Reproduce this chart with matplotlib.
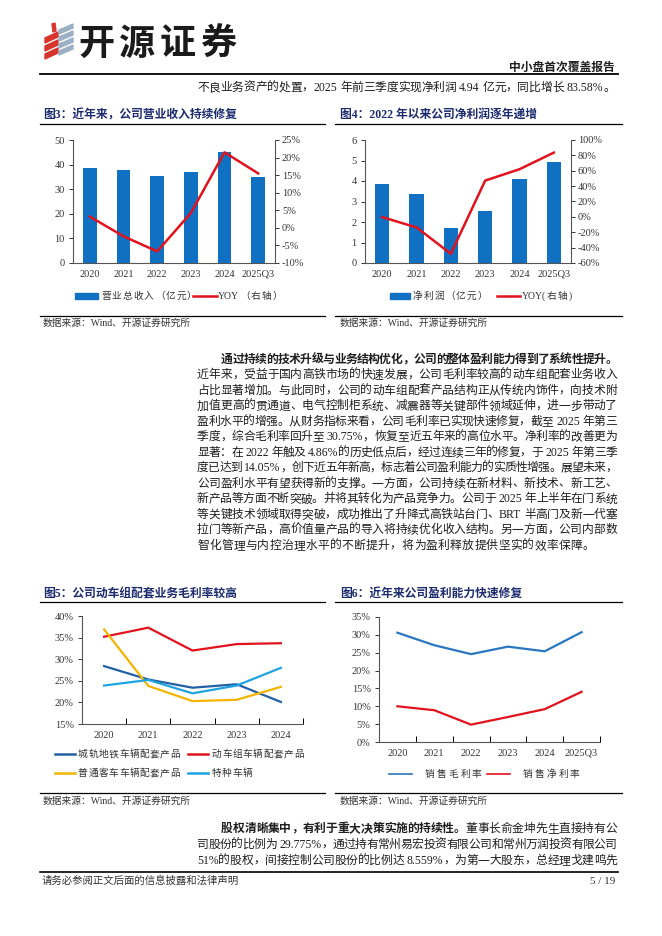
import re
import numpy as np
import matplotlib
matplotlib.use('Agg')
import matplotlib.pyplot as plt
import matplotlib.ticker as ticker
from matplotlib.lines import Line2D
from matplotlib.patches import Rectangle, Polygon

TXT = ['Liberation Serif', 'Noto Sans CJK SC']
plt.rcParams['font.family'] = TXT
plt.rcParams['axes.unicode_minus'] = False

# ---- data ----
years6 = ['2020', '2021', '2022', '2023', '2024', '2025Q3']
years5 = ['2020', '2021', '2022', '2023', '2024']

revenue = [38.7, 37.8, 35.2, 36.9, 45.0, 35.1]          # 亿元
revenue_yoy = [3.2, -2.4, -6.7, 4.2, 21.5, 15.5]        # %
profit = [3.87, 3.35, 1.73, 2.55, 4.10, 4.94]           # 亿元
profit_yoy = [-0.3, -13.7, -48.0, 47.2, 62.0, 83.6]     # %

metro = [28.4, 25.3, 23.4, 24.2, 20.1]
emu = [35.2, 37.3, 32.0, 33.5, 33.7]
coach = [36.9, 23.8, 20.3, 20.6, 23.6]
special = [23.9, 25.2, 22.1, 23.9, 28.0]
seg_names = ['城轨地铁车辆配套产品', '动车组车辆配套产品', '普通客车车辆配套产品', '特种车辆']

gross_margin = [30.6, 27.1, 24.6, 26.7, 25.4, 30.75]
net_margin = [10.0, 8.9, 4.86, 7.0, 9.2, 14.05]

body = [
    '近年来，受益于国内高铁市场的快速发展，公司毛利率较高的动车组配套业务收入',
    '占比显著增加。与此同时，公司的动车组配套产品结构正从传统内饰件，向技术附',
    '加值更高的贯通道、电气控制柜系统、减震器等关键部件领域延伸，进一步带动了',
    '盈利水平的增强。从财务指标来看，公司毛利率已实现快速修复，截至 2025 年第三',
    '季度，综合毛利率回升至 30.75%，恢复至近五年来的高位水平。净利率的改善更为',
    '显著：在 2022 年触及 4.86%的历史低点后，经过连续三年的修复，于 2025 年第三季',
    '度已达到 14.05%，创下近五年新高，标志着公司盈利能力的实质性增强。展望未来，',
    '公司盈利水平有望获得新的支撑。一方面，公司持续在新材料、新技术、新工艺、',
    '新产品等方面不断突破。并将其转化为产品竞争力。公司于 2025 年上半年在门系统',
    '等关键技术领域取得突破，成功推出了升降式高铁站台门、BRT 半高门及新一代塞',
    '拉门等新产品，高价值量产品的导入将持续优化收入结构。另一方面，公司内部数',
    '智化管理与内控治理水平的不断提升，将为盈利释放提供坚实的效率保障。',
]

BLUE = '#1070c2'
RED = '#e2121c'
NAVY = '#1b2b6e'
INK = '#1e1e1e'

W, H = 662, 936
fig = plt.figure(figsize=(W / 100, H / 100), dpi=100)
rend = fig.canvas.get_renderer()


def fx(x):
    return x / W


def fy(y):
    return 1 - y / H


def add_ax(x0, y0, x1, y1):
    return fig.add_axes([fx(x0), fy(y1), (x1 - x0) / W, (y1 - y0) / H])


def hline(x0, x1, y, lw=0.9):
    fig.add_artist(Line2D([fx(x0), fx(x1)], [fy(y), fy(y)], color='black', lw=lw,
                          transform=fig.transFigure))


def text_line(parts, y, x0=197, x1=617, justify=True, fs=8.5, gap=0.0,
              color=INK):
    # place token by token so the line can be justified like the page
    toks = []
    for s, bold in parts:
        for t in re.findall(r'[A-Za-z0-9.%/()]+| |.', s):
            toks.append((t, bold))
    arts, widths = [], []
    for t, bold in toks:
        if t == ' ':
            arts.append(None)
            widths.append(fs * 100 / 72 * 0.25)
            continue
        a = fig.text(0, fy(y + fs * 0.45), t, fontsize=fs, family=TXT,
                     fontweight='bold' if bold else 'normal',
                     va='baseline', ha='left', color=color)
        arts.append(a)
        widths.append(a.get_window_extent(rend).width)
    if justify and len(toks) > 1:
        gap = (x1 - x0 - sum(widths)) / (len(toks) - 1)
    x = x0
    for a, w in zip(arts, widths):
        if a is not None:
            a.set_x(fx(x))
        x += w + gap


# ---- page header ----
for i in range(3):
    fig.add_artist(Polygon([(fx(45), fy(38 + i * 8)), (fx(58), fy(32 + i * 8)),
                            (fx(58), fy(37 + i * 8)), (fx(45), fy(43 + i * 8))],
                           closed=True, color='#d9342b', transform=fig.transFigure))
fig.add_artist(Polygon([(fx(52), fy(24)), (fx(55), fy(23)), (fx(56), fy(31)), (fx(53), fy(32))],
                       closed=True, color='#d9342b', transform=fig.transFigure))
for i in range(4):
    fig.add_artist(Polygon([(fx(59), fy(30 + i * 7)), (fx(73), fy(24 + i * 7)),
                            (fx(73), fy(28 + i * 7)), (fx(59), fy(34 + i * 7))],
                           closed=True, color='#9bb0c4', transform=fig.transFigure))
text_line([('开源证券', True)], 43, x0=78, x1=236, fs=26, color='#1a1a1a')
fig.text(fx(615), fy(68), '中小盘首次覆盖报告', fontsize=8.5, fontweight='bold',
         ha='right', va='center', color=INK)
hline(40, 618, 74, lw=1.3)

text_line([('不良业务资产的处置，2025 年前三季度实现净利润 4.94 亿元，同比增长 83.58%。', False)],
          87, x0=197, x1=615)


def fig_title(x, y, s):
    fig.text(fx(x), fy(y), s, fontsize=8.5, fontweight='bold', color=NAVY,
             ha='left', va='center')


def source(x, y):
    fig.text(fx(x), fy(y), '数据来源：Wind、开源证券研究所', fontsize=7,
             color='#333333', ha='left', va='center')


def style_ticks(ax):
    ax.tick_params(labelsize=7.5, colors='#333333', width=0.7)
    for sp in ax.spines.values():
        sp.set_color('#555555')
        sp.set_linewidth(0.8)


def leg_patch(x0, x1, y, color, label):
    fig.add_artist(Rectangle((fx(x0), fy(y + 3)), (x1 - x0) / W, 6 / H,
                             color=color, transform=fig.transFigure))
    text_line([(label, False)], y, x0=x1 + 3, justify=False, fs=7, gap=1.0,
              color='#333333')


def leg_line(x0, x1, y, color, label, lx=None, gap=1.0):
    fig.add_artist(Line2D([fx(x0), fx(x1)], [fy(y), fy(y)], color=color, lw=1.8,
                          transform=fig.transFigure))
    text_line([(label, False)], y, x0=lx if lx else x1 + 3, justify=False, fs=7,
              gap=gap, color='#333333')


# ---- 图3 ----
fig_title(43, 115, '图3：近年来，公司营业收入持续修复')
hline(40, 325, 124)
ax3 = add_ax(73, 140, 275, 263)
x6 = np.arange(len(years6))
ax3.bar(x6, revenue, width=0.4, color=BLUE)
ax3.set_xlim(-0.5, 5.5)
ax3.set_ylim(0, 50)
ax3.set_yticks(range(0, 51, 10))
ax3.set_xticks(x6)
ax3.set_xticklabels(years6)
ax3r = ax3.twinx()
ax3r.plot(x6, revenue_yoy, color=RED, lw=1.8)
ax3r.set_ylim(-10, 25)
ax3r.set_yticks(range(-10, 26, 5))
ax3r.yaxis.set_major_formatter(ticker.FuncFormatter(lambda v, p: f'{v:.0f}%'))
leg_patch(75, 98, 296, BLUE, '营业总收入（亿元）')
leg_line(193, 217, 296, RED, 'YOY（右轴）', lx=218)
hline(40, 325, 316)
source(43, 323)

# ---- 图4 ----
fig_title(340, 115, '图4：2022 年以来公司净利润逐年递增')
hline(335, 622, 124)
ax4 = add_ax(365, 140, 571, 263)
ax4.bar(x6, profit, width=0.42, color=BLUE)
ax4.set_xlim(-0.5, 5.5)
ax4.set_ylim(0, 6)
ax4.set_yticks(range(0, 7))
ax4.set_xticks(x6)
ax4.set_xticklabels(years6)
ax4r = ax4.twinx()
ax4r.plot(x6, profit_yoy, color=RED, lw=1.8)
ax4r.set_ylim(-60, 100)
ax4r.set_yticks(range(-60, 101, 20))
ax4r.yaxis.set_major_formatter(ticker.FuncFormatter(lambda v, p: f'{v:.0f}%'))
leg_patch(390, 410, 296, BLUE, '净利润（亿元）')
leg_line(497, 520, 296, RED, 'YOY(右轴)', lx=522)
hline(335, 622, 316)
source(340, 323)

for ax, axr in [(ax3, ax3r), (ax4, ax4r)]:
    for a in (ax, axr):
        style_ticks(a)
        a.spines['top'].set_visible(False)
    ax.spines['right'].set_visible(False)
    axr.spines['left'].set_visible(False)
    axr.spines['bottom'].set_visible(False)
    ax.tick_params(axis='x', length=0, pad=5)
    ax.tick_params(axis='y', length=3, direction='out', pad=3)
    axr.tick_params(axis='y', length=3, direction='out', pad=2)

# ---- body paragraph ----
text_line([('通过持续的技术升级与业务结构优化，公司的整体盈利能力得到了系统性提升。', True)],
          359, x0=221)
for i, s in enumerate(body):
    text_line([(s, False)], 374.5 + i * 15.5, justify=(i < len(body) - 1), gap=0.3)

# ---- 图5 ----
fig_title(43, 594, '图5：公司动车组配套业务毛利率较高')
hline(40, 325, 602)
ax5 = add_ax(82, 616, 303, 724)
x5 = np.arange(len(years5))
seg_colors = ['#215fa6', RED, '#f4b400', '#1ea3df']
for vals, c in zip([metro, emu, coach, special], seg_colors):
    ax5.plot(x5, vals, color=c, lw=1.6)
ax5.set_xlim(-0.5, 4.5)
ax5.set_ylim(15, 40)
ax5.set_yticks(range(15, 41, 5))
ax5.set_xticks(x5)
ax5.set_xticklabels(years5)
ax5.set_xticks(np.arange(-0.5, 5, 1), minor=True)
leg_line(55, 75, 754, seg_colors[0], seg_names[0], lx=78, gap=0.5)
leg_line(188, 208, 754, seg_colors[1], seg_names[1], lx=212, gap=0.5)
leg_line(55, 75, 773, seg_colors[2], seg_names[2], lx=78, gap=0.5)
leg_line(188, 208, 773, seg_colors[3], seg_names[3], lx=212, gap=0.5)
hline(40, 325, 793)
source(43, 801)

# ---- 图6 ----
fig_title(340, 594, '图6：近年来公司盈利能力快速修复')
hline(335, 622, 602)
ax6 = add_ax(379, 617, 600, 742)
ax6.plot(x6, gross_margin, color='#2877c0', lw=1.6)
ax6.plot(x6, net_margin, color=RED, lw=1.6)
ax6.set_xlim(-0.5, 5.5)
ax6.set_ylim(0, 35)
ax6.set_yticks(range(0, 36, 5))
ax6.set_xticks(x6)
ax6.set_xticklabels(years6)
ax6.set_xticks(np.arange(-0.5, 6, 1), minor=True)
fig.add_artist(Line2D([fx(389), fx(412)], [fy(774), fy(774)], color='#2877c0', lw=1.2,
                      transform=fig.transFigure))
text_line([('销售毛利率', False)], 774, x0=425, justify=False, fs=7, gap=2.0,
          color='#333333')
fig.add_artist(Line2D([fx(487), fx(510)], [fy(774), fy(774)], color=RED, lw=1.2,
                      transform=fig.transFigure))
text_line([('销售净利率', False)], 774, x0=523, justify=False, fs=7, gap=2.0,
          color='#333333')
hline(335, 622, 793)
source(340, 801)

for ax in (ax5, ax6):
    style_ticks(ax)
    ax.spines['top'].set_visible(False)
    ax.spines['right'].set_visible(False)
    ax.yaxis.set_major_formatter(ticker.FuncFormatter(lambda v, p: f'{v:.0f}%'))
    ax.tick_params(axis='x', which='major', length=0, pad=5)
    ax.tick_params(axis='x', which='minor', direction='in', length=4, width=0.7)
    ax.tick_params(axis='y', length=3, direction='out', pad=3)

# ---- closing paragraph and footer ----
text_line([('股权清晰集中，有利于重大决策实施的持续性。', True), ('董事长俞金坤先生直接持有公', False)],
          828, x0=221)
text_line([('司股份的比例为 29.775%，通过持有常州易宏投资有限公司和常州万润投资有限公司', False)], 844)
text_line([('51%的股权，间接控制公司股份的比例达 8.559%，为第一大股东，总经理戈建鸣先', False)], 860)
hline(40, 618, 872, lw=1.2)
fig.text(fx(42), fy(881), '请务必参阅正文后面的信息披露和法律声明', fontsize=7.5,
         color='#333333', ha='left', va='center')
fig.text(fx(615), fy(881), '5 / 19', fontsize=8, color='#333333', ha='right', va='center')

fig.savefig('out.png', dpi=100)
